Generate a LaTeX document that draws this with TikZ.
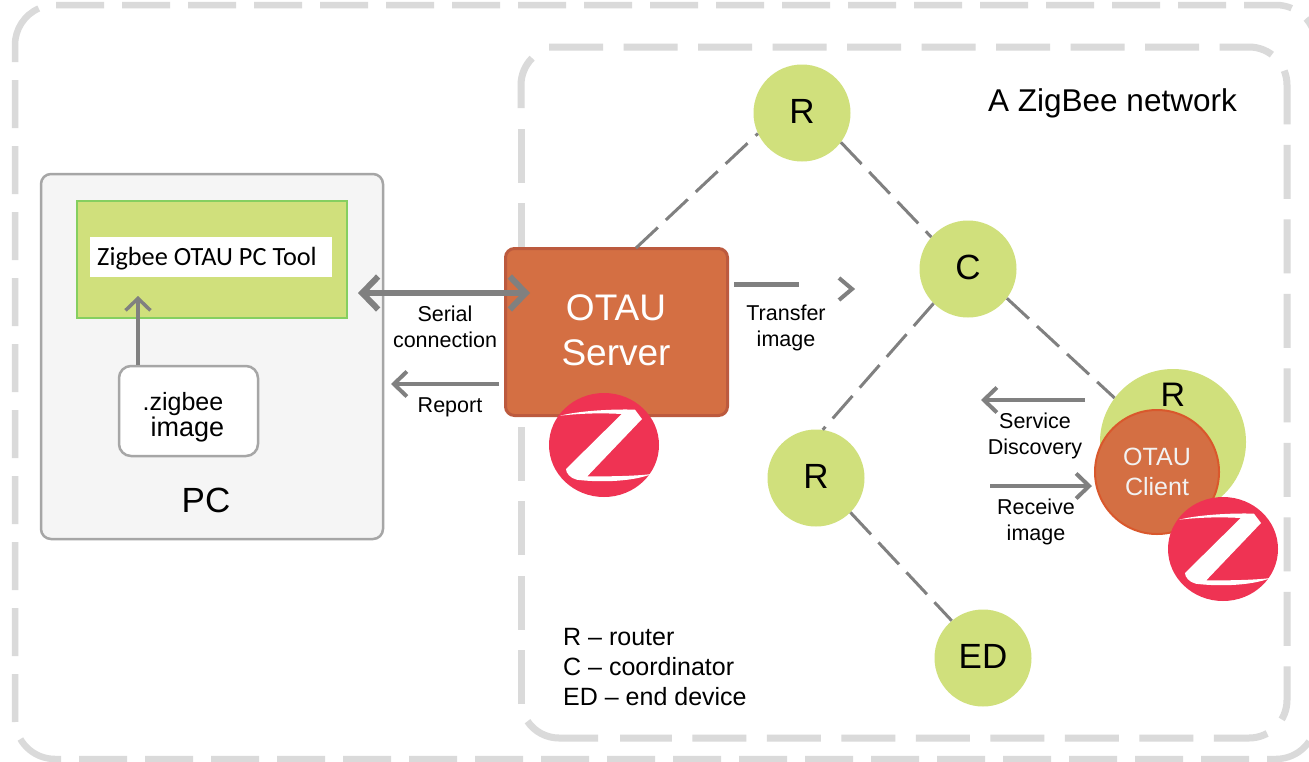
\documentclass[tikz,border=0pt]{standalone}
\usepackage{fontspec}
\setmainfont{Liberation Sans}
\newfontfamily\toolfont{Carlito}
\usetikzlibrary{arrows.meta}

\newcommand{\fsize}[2]{\fontsize{#1}{#2}\selectfont}

\definecolor{dashgray}{HTML}{DADADA}
\definecolor{linegray}{HTML}{808080}
\definecolor{nodegreen}{HTML}{D0E07C}
\definecolor{toolborder}{HTML}{85CF60}
\definecolor{otauorange}{HTML}{D46F43}
\definecolor{serverborder}{HTML}{BC5A3E}
\definecolor{clientborder}{HTML}{D9582C}
\definecolor{logored}{HTML}{EF3353}

\tikzset{
    outerdash/.style={draw=dashgray, line width=6.5pt, dash pattern=on 48pt off 18pt},
    innerdash/.style={draw=dashgray, line width=7pt, dash pattern=on 54pt off 20.5pt},
    netnode/.style={circle, fill=nodegreen, minimum size=97pt, inner sep=0pt, text depth=4pt, font=\fsize{35}{40}},
    netlink/.style={draw=linegray, line width=3pt, dash pattern=on 30pt off 11pt},
    label/.style={align=center, inner sep=0pt, font=\fsize{21.5}{26}},
    thinarrow/.style={linegray, line width=4pt, -{Straight Barb[length=13pt, width=25pt]}},
    zlogo/.pic={
        \fill[logored] (0,0) ellipse [x radius=55, y radius=52];
        \fill[white] (-44,-29.3) .. controls (-20.7,-35.3) and (19.3,-36) .. (31,-35.3)
            -- (38,-26) -- (-16.7,31.3)
            .. controls (0,31.5) and (30,31.3) .. (47.7,29)
            .. controls (26.7,37.3) and (-7.3,37.3) .. (-27.3,34.7)
            .. controls (-34,33) and (-38,28) .. (-38,24)
            -- (17.7,-31)
            .. controls (0,-32) and (-20,-32) .. (-44,-29.3) -- cycle;
    },
}

\begin{document}
\begin{tikzpicture}[x=1pt, y=-1pt]
    \clip (0,0) rectangle (1309,761);
    \fill[white] (0,0) rectangle (1309,761);

    % outer frame
    \draw[outerdash, rounded corners=40pt] (56,5) -| (1316,300);
    \draw[outerdash, rounded corners=40pt] (15,80) |- (1316,759) -- (1316,300);
    \draw[dashgray, line width=6.5pt] (15,62) -- (15,45) arc[start angle=180, end angle=246, radius=40];

    % zigbee network frame
    \draw[innerdash, rounded corners=38pt] (549,47) -| (1287,738) -- (620,738);
    \draw[innerdash] (521,704) -- (521,129);
    \draw[dashgray, line width=7pt] (521,108) -- (521,85) arc[start angle=180, end angle=225, radius=38];
    \draw[dashgray, line width=7pt] (598,738) -- (559,738) arc[start angle=90, end angle=146, radius=38];

    % pc side
    \node[draw=black!35, line width=2.5pt, fill=black!4, rounded corners=10pt, minimum width=342pt, minimum height=365pt, inner sep=0pt] (pc) at (212,356.5) {};
    \node[draw=toolborder, line width=2pt, fill=nodegreen, minimum width=270pt, minimum height=117pt, inner sep=0pt] (tool) at (212,259.5) {};
    \node[fill=white, minimum width=242pt, minimum height=40pt, inner sep=0pt] (toolname) at (211,257) {};
    \node[anchor=base west, inner sep=0pt, font=\toolfont\fsize{26.3}{30}] (tooltext) at (97,265) {Zigbee OTAU PC Tool};
    \node[draw=black!35, line width=2.5pt, fill=white, rounded corners=12pt, minimum width=139pt, minimum height=90pt, inner sep=0pt] (zimage) at (188.5,411) {};
    \node[inner sep=0pt, align=center] (zname) at (183,417) {\fsize{25}{23}.zigbee\\\fsize{27}{23}\hspace*{9pt}image};
    \node[inner sep=0pt, font=\fsize{35}{40}] (pclabel) at (206,500) {PC};

    \coordinate (uptip) at (138,296);
    \draw[linegray, line width=3.5pt, -{Straight Barb[length=12pt, width=25pt]}] ([xshift=-50.5pt]zimage.north) -- (uptip);

    % server
    \node[draw=serverborder, line width=3pt, fill=otauorange, rounded corners=9pt, minimum width=222pt, minimum height=167pt, inner sep=0pt] (server) at (616.5,332) {};
    \node[inner sep=0pt, align=center, text=white, font=\fsize{37}{45}] (servertext) at (616,330) {OTAU\\Server};
    \pic at (604,445) {zlogo};

    % network nodes
    \node[netnode] (r1) at (802,113) {R};
    \node[netnode] (c) at (968,269) {C};
    \node[netnode] (r2) at (816,478) {R};
    \node[netnode] (ed) at (983,658) {ED};
    \node[circle, fill=nodegreen, minimum size=146pt, inner sep=0pt] (r3) at (1173,442) {};
    \node[inner sep=0pt, font=\fsize{34}{40}] (r3label) at (1173,395) {R};
    \node[circle, draw=clientborder, line width=2pt, fill=otauorange, minimum size=124pt, inner sep=0pt, align=center, text=white!95!black, font=\fsize{25}{30}] (client) at (1157,472) {OTAU\\Client};
    \pic at (1223,549) {zlogo};

    \coordinate (srvtop) at (636,248);
    \draw[netlink] (srvtop) -- (r1.205);
    \draw[netlink] (r1.-37) -- (c.139);
    \draw[netlink] (c.-37) -- (r3.143);
    \draw[netlink] (c.225) -- (r2.82);
    \draw[netlink] (r2.-45) -- (ed.130);

    % arrows
    \coordinate (serialleft) at (358,293);
    \coordinate (serialright) at (530,293);
    \draw[linegray, line width=6pt, {Straight Barb[length=16pt, width=33pt]}-{Straight Barb[length=16pt, width=33pt]}] (serialleft) -- (serialright);
    \coordinate (reportfrom) at (499,384);
    \coordinate (reportto) at (391,384);
    \draw[thinarrow] (reportfrom) -- (reportto);
    \coordinate (transferfrom) at (734,284.5);
    \coordinate (transferend) at (799,284.5);
    \draw[linegray, line width=4.5pt] (transferfrom) -- (transferend);
    \coordinate (chevtop) at (839,278);
    \coordinate (chevtip) at (852,289);
    \coordinate (chevbot) at (839,300);
    \draw[linegray, line width=4pt] (chevtop) -- (chevtip) -- (chevbot);
    \coordinate (discfrom) at (1085,400);
    \coordinate (discto) at (981,400);
    \draw[thinarrow] (discfrom) -- (discto);
    \coordinate (recvfrom) at (990,486);
    \coordinate (recvto) at (1092,486);
    \draw[thinarrow] (recvfrom) -- (recvto);

    % labels
    \node[label] (seriallabel) at (445,327) {Serial\\connection};
    \node[label] (reportlabel) at (450,407) {Report};
    \node[label] (transferlabel) at (786,327.5) {Transfer\\image};
    \node[label] (disclabel) at (1035,435.5) {Service\\Discovery};
    \node[label] (recvlabel) at (1036,521.5) {Receive\\image};
    \node[inner sep=0pt, anchor=base west, font=\fsize{31.5}{36}] (nettitle) at (988,111) {A ZigBee network};
    \node[inner sep=0pt, anchor=west, align=left, font=\fsize{25}{30}] (legend) at (563,667) {R -- router\\C -- coordinator\\ED -- end device};
\end{tikzpicture}
\end{document}
